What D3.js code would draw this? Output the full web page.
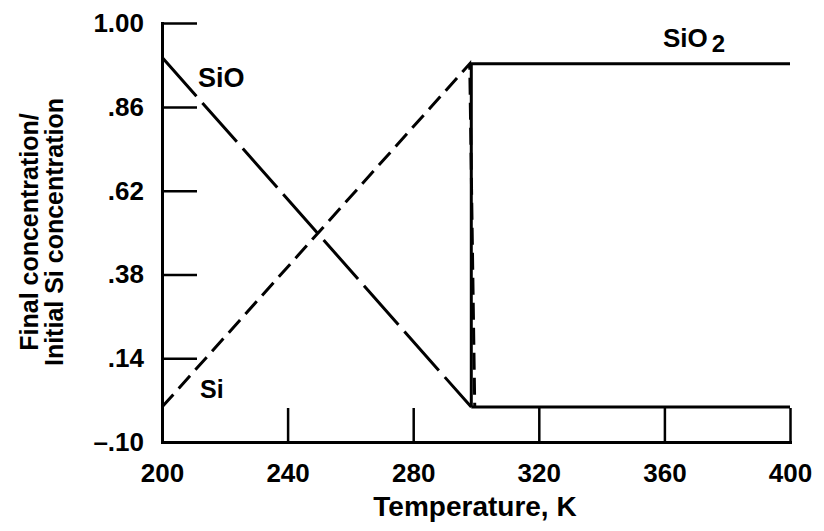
<!DOCTYPE html>
<html><head><meta charset="utf-8">
<script src="https://cdn.jsdelivr.net/npm/d3@7"></script>
<style>
body{margin:0;background:#fff}
svg{display:block}
text{font-family:"Liberation Sans",Arial,Helvetica,sans-serif;font-weight:bold;fill:#000}
</style>
</head><body><svg id="c" width="824" height="531"></svg>
<script>
// ---- data ----
const xTicks = [200, 240, 280, 320, 360, 400];
const xTickLabels = ["200", "240", "280", "320", "360", "400"];
const yTicks = [-0.10, 0.14, 0.38, 0.62, 0.86, 1.00];
const yTickLabels = ["\u2013.10", ".14", ".38", ".62", ".86", "1.00"];

const tempSiO = [200, 298.5];
const valSiO = [0.943, 0];
const tempSi = [200, 298, 299.6];
const valSi = [0.0, 0.932, 0.0];
const tempSiO2 = [298.5, 298.5, 400];
const valSiO2 = [0.0, 0.932, 0.932];
const tempZero = [298.5, 400];   // SiO and Si both at zero above ~300 K
const valZero = [0, 0];

const yTitleLines = ["Final concentration/", "Initial Si concentration"];
const xTitle = "Temperature, K";

// ---- drawing ----
const svg = d3.select("#c");
const x = d3.scaleLinear().domain([200, 400]).range([162, 790]);
const y = d3.scaleLinear().domain([-0.10, 0.86, 1.00]).range([442, 107, 23]);

const zip = (ts, vs) => ts.map((t, i) => [t, vs[i]]);
const line = d3.line().x(d => x(d[0])).y(d => y(d[1]));

// axes
const gx = svg.append("g").attr("transform", `translate(0,${y(-0.10)})`)
  .call(d3.axisBottom(x).tickValues(xTicks).tickFormat((d, i) => xTickLabels[i])
    .tickSizeInner(-34).tickSizeOuter(0).tickPadding(22));
const gy = svg.append("g").attr("transform", `translate(${x(200)},0)`)
  .call(d3.axisLeft(y).tickValues(yTicks).tickFormat((d, i) => yTickLabels[i])
    .tickSizeInner(-35).tickSizeOuter(0).tickPadding(18));

[gx, gy].forEach(g => {
  g.select(".domain").attr("stroke", "#000").attr("stroke-width", 3).attr("stroke-linecap", "square");
  g.selectAll(".tick line").attr("stroke", "#000").attr("stroke-width", 2.5);
  g.selectAll(".tick text").style("font-size", "26px").style("font-family", '"Liberation Sans",Arial,sans-serif')
    .style("font-weight", "bold").attr("fill", "#000");
});
gx.selectAll(".tick text").attr("dy", "0.71em");

// series
svg.append("path").datum(zip(tempSiO, valSiO)).attr("d", line)
  .attr("fill", "none").attr("stroke", "#000").attr("stroke-width", 3).attr("stroke-dasharray", "52,9");
svg.append("path").datum(zip(tempSi, valSi)).attr("d", line)
  .attr("fill", "none").attr("stroke", "#000").attr("stroke-width", 3).attr("stroke-dasharray", "17,8");
svg.append("path").datum(zip(tempSiO2, valSiO2)).attr("d", line)
  .attr("fill", "none").attr("stroke", "#000").attr("stroke-width", 3);
svg.append("path").datum(zip(tempZero, valZero)).attr("d", line)
  .attr("fill", "none").attr("stroke", "#000").attr("stroke-width", 3);

// series labels
svg.append("text").attr("x", 198).attr("y", 87).style("font-size", "27px").text("SiO");
svg.append("text").attr("x", 200).attr("y", 398).style("font-size", "25px").text("Si");
const t2 = svg.append("text").attr("x", 663).attr("y", 47).style("font-size", "26px");
t2.append("tspan").text("SiO");
t2.append("tspan").attr("dx", 4).attr("dy", 5).style("font-size", "24px").text("2");

// axis titles
svg.append("text").attr("x", 475).attr("y", 516).attr("text-anchor", "middle")
  .style("font-size", "28px").text(xTitle);
const yt = svg.append("text").attr("transform", "translate(0,232) rotate(-90)")
  .attr("text-anchor", "middle").style("font-size", "25px");
yt.append("tspan").attr("x", 0).attr("y", 38).text(yTitleLines[0]);
yt.append("tspan").attr("x", 0).attr("y", 63).text(yTitleLines[1]);
</script>
</body></html>
